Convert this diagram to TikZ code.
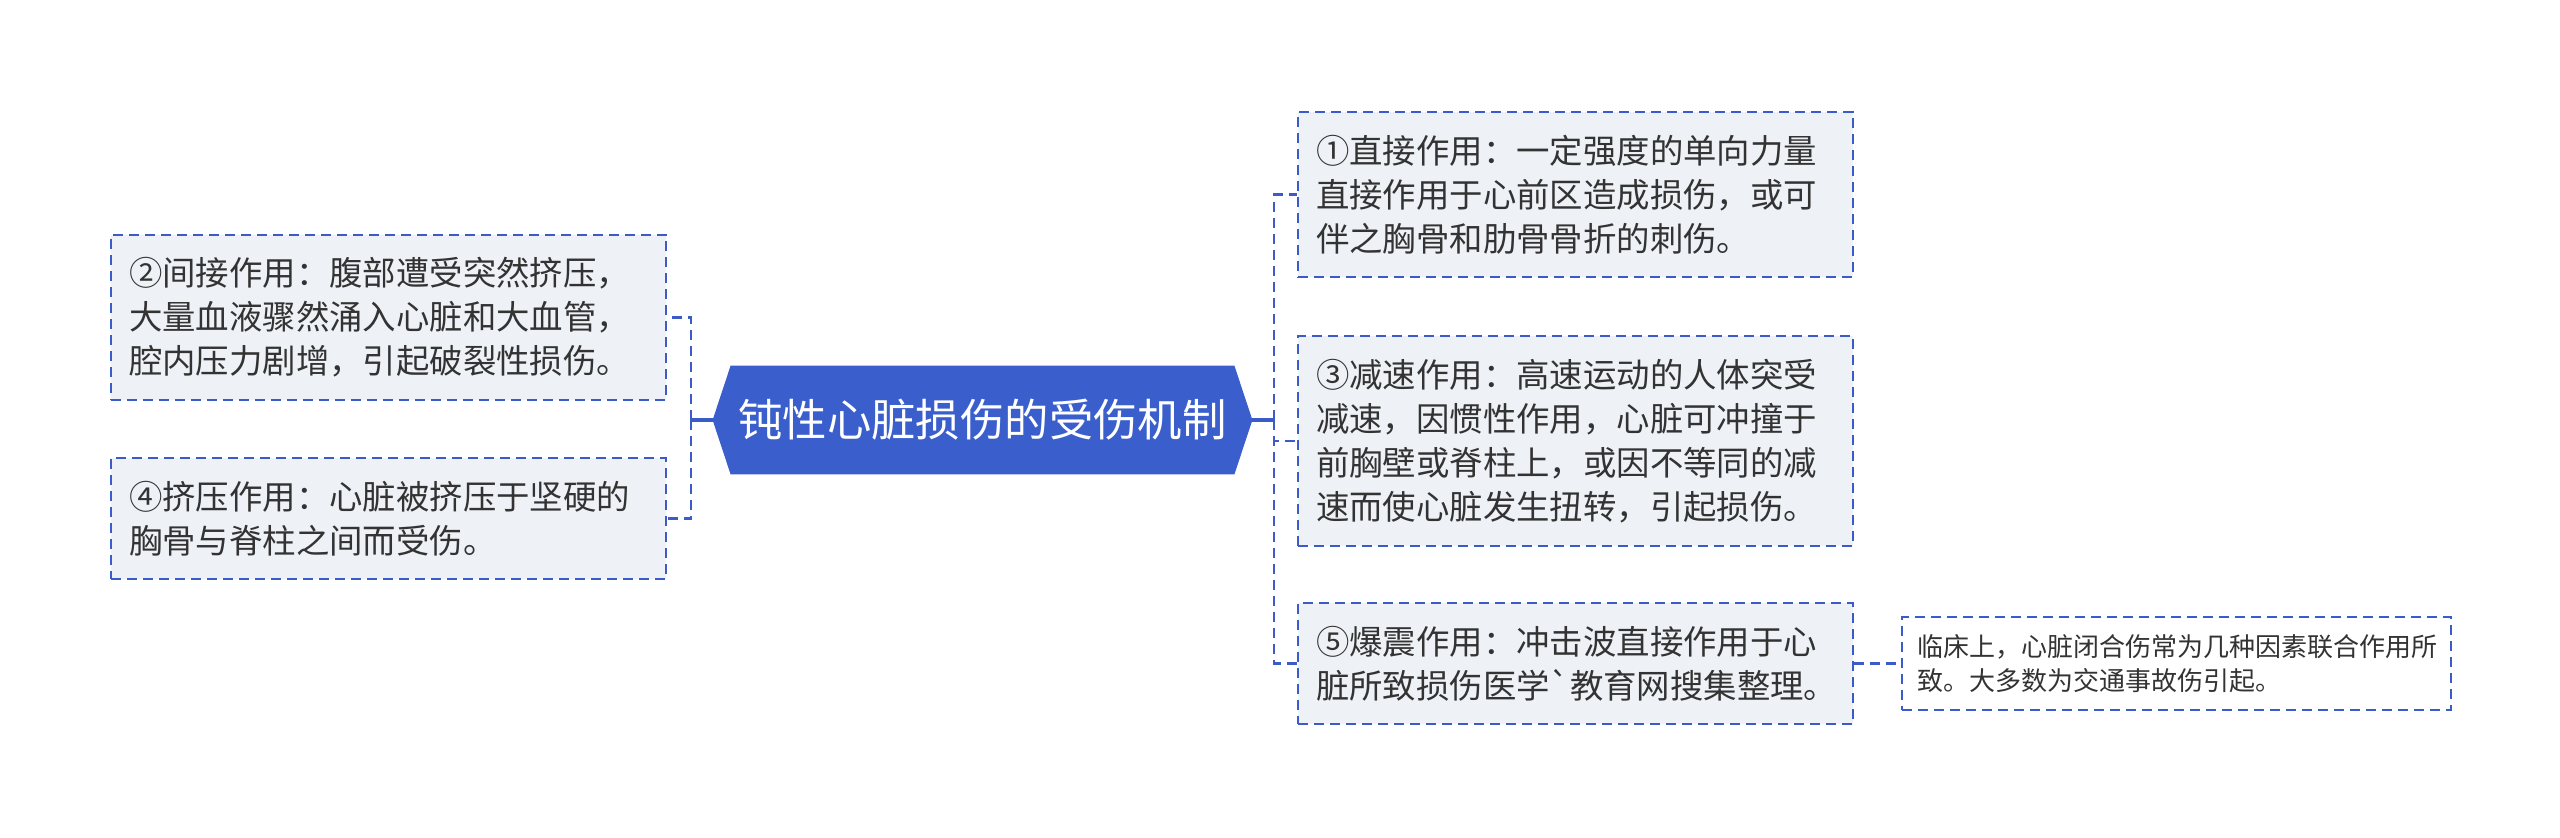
\documentclass[tikz,border=0pt]{standalone}
\usepackage{fontspec}
\setmainfont{Noto Sans CJK SC}[Ligatures=TeXOff]
\usetikzlibrary{positioning,backgrounds}
\definecolor{mainblue}{HTML}{3A5FCD}
\definecolor{linkblue}{HTML}{3B5BC8}
\definecolor{boxgray}{HTML}{EEF2F6}
\definecolor{txt}{HTML}{333333}

\begin{document}
\begin{tikzpicture}[x=0.5pt,y=-0.5pt,
    box/.style={draw=linkblue, line width=1pt, dash pattern=on 5pt off 3pt,
        fill=boxgray, text=txt, align=left, text width=259.5pt,
        inner xsep=9pt, inner ysep=11.5pt, font=\fontsize{16.7}{22}\selectfont},
    note/.style={box, fill=white, inner xsep=7.5pt, inner ysep=8.75pt,
        font=\fontsize{13}{17}\selectfont},
    link/.style={draw=linkblue, line width=1.2pt, dash pattern=on 5pt off 3pt},
    stub/.style={draw=linkblue, line width=1.6pt},
    elbow/.style={to path={|- (\tikztotarget)}}]
    \useasboundingbox (0,0) rectangle (2560,837);

    \node[text=white, font=\fontsize{22.2}{26}\selectfont, minimum width=251.5pt,
          minimum height=54pt, inner sep=0] (root) at (982.5,420) {钝性心脏损伤的受伤机制};
    \coordinate (rtip) at ([xshift=9pt]root.east);
    \coordinate (ltip) at ([xshift=-9pt]root.west);
    \begin{scope}[on background layer]
        \fill[mainblue] (root.north west) -- (root.north east) -- (rtip)
            -- (root.south east) -- (root.south west) -- (ltip) -- cycle;
    \end{scope}

    % right side
    \node[box] (b1) at (1575.5,194.5) {①直接作用：一定强度的单向力量\\直接作用于心前区造成损伤，或可\\伴之胸骨和肋骨骨折的刺伤。};
    \node[box] (b3) at (1575.5,441) {③减速作用：高速运动的人体突受\\减速，因惯性作用，心脏可冲撞于\\前胸壁或脊柱上，或因不等同的减\\速而使心脏发生扭转，引起损伤。};
    \node[box] (b5) at (1575.5,663.5) {⑤爆震作用：冲击波直接作用于心\\脏所致损伤医学`教育网搜集整理。};
    \node[note] (n5) [right=23.5pt of b5] {临床上，心脏闭合伤常为几种因素联合作用所\\致。大多数为交通事故伤引起。};

    % left side
    \node[box] (b2) at (388.5,317.5) {②间接作用：腹部遭受突然挤压，\\大量血液骤然涌入心脏和大血管，\\腔内压力剧增，引起破裂性损伤。};
    \node[box] (b4) at (388.5,518.5) {④挤压作用：心脏被挤压于坚硬的\\胸骨与脊柱之间而受伤。};

    \coordinate (rj) at (1274,420);
    \coordinate (lj) at (691,420);

    \draw[stub] (rtip) -- (rj);
    \draw[stub] (ltip) -- (lj);
    \draw[link] (rj) edge[elbow] (b1.west)
                     edge[elbow] (b3.west)
                     edge[elbow] (b5.west)
                (lj) edge[elbow] (b2.east)
                     edge[elbow] (b4.east)
                (b5) edge (n5);
\end{tikzpicture}
\end{document}
